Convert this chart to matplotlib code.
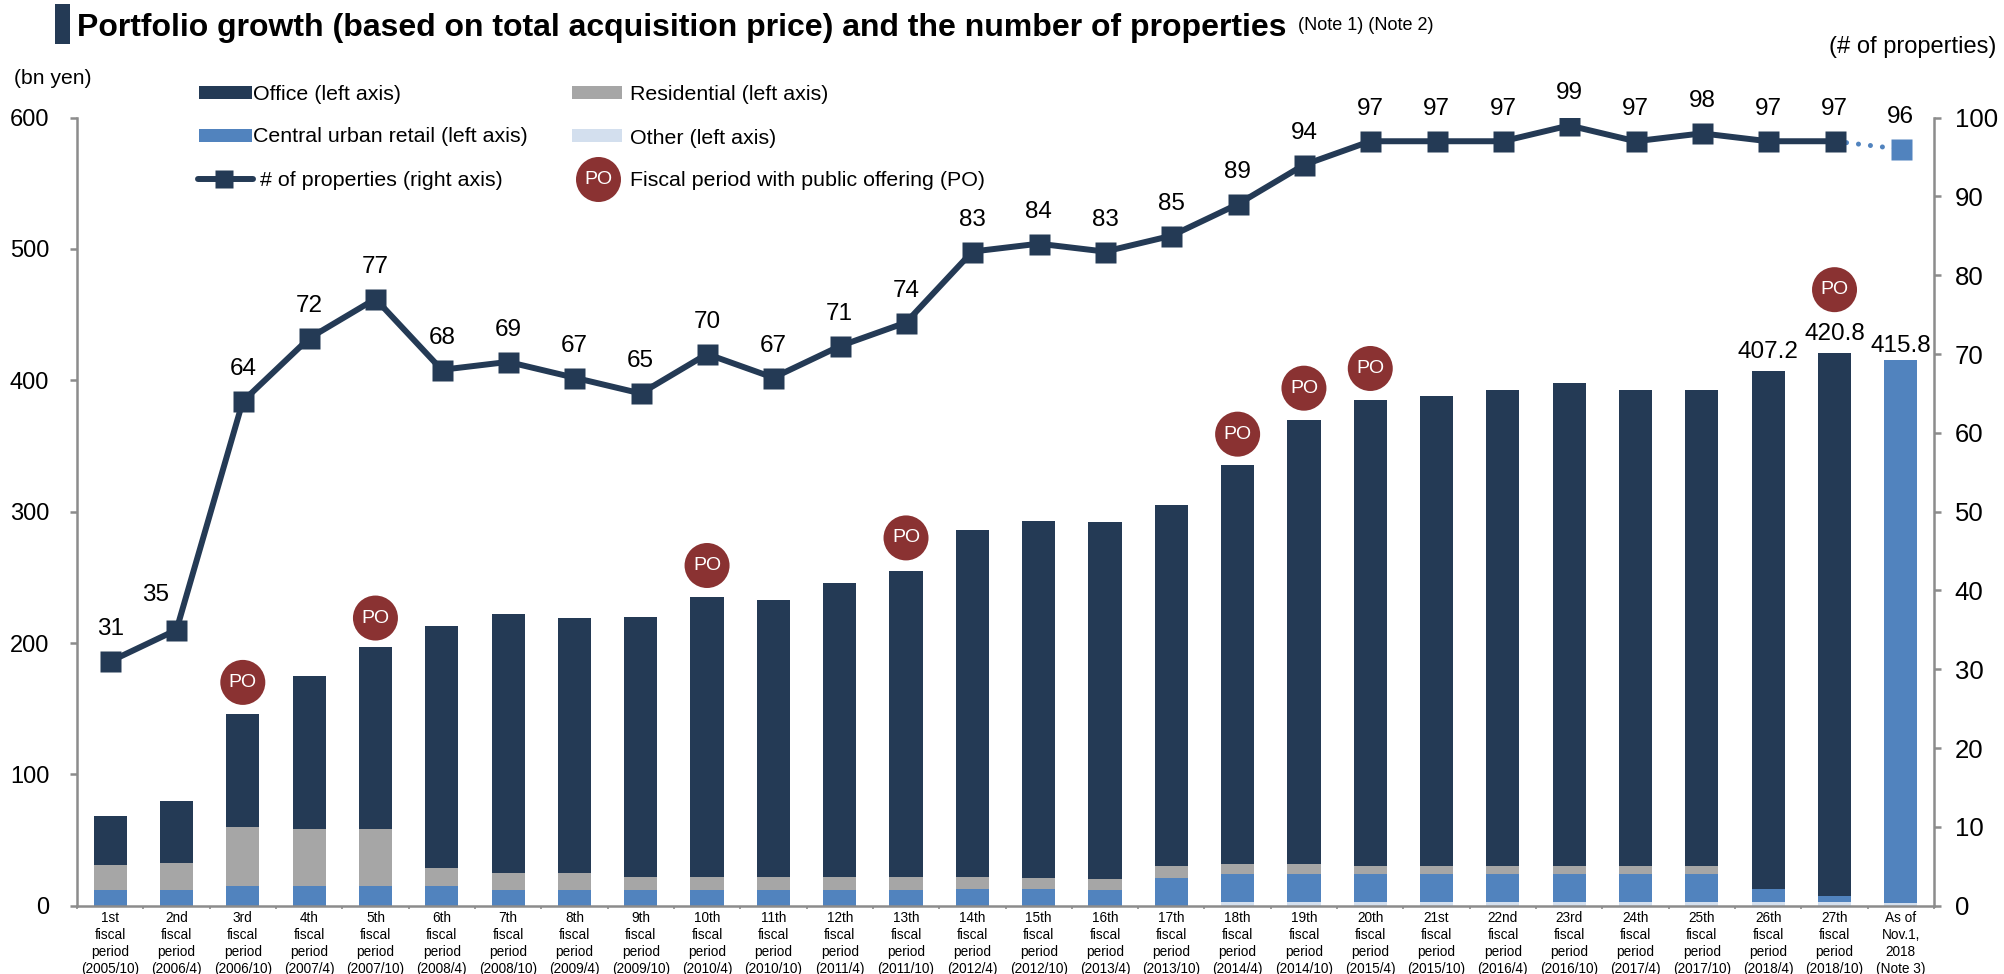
import matplotlib
matplotlib.use("Agg")
import matplotlib.pyplot as plt
from matplotlib.patches import Rectangle
from matplotlib.lines import Line2D
import numpy as np

plt.rcParams['font.family'] = ['Liberation Sans', 'DejaVu Sans']

W, H = 2004, 974
categories = [
    "1st\nfiscal\nperiod\n(2005/10)", "2nd\nfiscal\nperiod\n(2006/4)", "3rd\nfiscal\nperiod\n(2006/10)",
    "4th\nfiscal\nperiod\n(2007/4)", "5th\nfiscal\nperiod\n(2007/10)", "6th\nfiscal\nperiod\n(2008/4)",
    "7th\nfiscal\nperiod\n(2008/10)", "8th\nfiscal\nperiod\n(2009/4)", "9th\nfiscal\nperiod\n(2009/10)",
    "10th\nfiscal\nperiod\n(2010/4)", "11th\nfiscal\nperiod\n(2010/10)", "12th\nfiscal\nperiod\n(2011/4)",
    "13th\nfiscal\nperiod\n(2011/10)", "14th\nfiscal\nperiod\n(2012/4)", "15th\nfiscal\nperiod\n(2012/10)",
    "16th\nfiscal\nperiod\n(2013/4)", "17th\nfiscal\nperiod\n(2013/10)", "18th\nfiscal\nperiod\n(2014/4)",
    "19th\nfiscal\nperiod\n(2014/10)", "20th\nfiscal\nperiod\n(2015/4)", "21st\nfiscal\nperiod\n(2015/10)",
    "22nd\nfiscal\nperiod\n(2016/4)", "23rd\nfiscal\nperiod\n(2016/10)", "24th\nfiscal\nperiod\n(2017/4)",
    "25th\nfiscal\nperiod\n(2017/10)", "26th\nfiscal\nperiod\n(2018/4)", "27th\nfiscal\nperiod\n(2018/10)",
    "As of\nNov.1,\n2018\n(Note 3)",
]
other = [0, 0, 0, 0, 0, 0, 0, 0, 0, 0, 0, 0, 0, 0, 0, 0, 0, 2.5, 2.5, 2.5, 2.5, 2.5, 2.5, 2.5, 2.5, 2.5, 2.5, 1.8]
retail = [11.7, 11.7, 15.2, 15.2, 15.2, 15.2, 11.7, 11.7, 11.7, 11.7, 11.7, 11.7, 11.7, 12.4, 12.4, 11.7, 21.3,
          21.9, 21.9, 21.9, 21.9, 21.9, 21.9, 21.9, 21.9, 10.2, 5.1, 414.0]
residential = [19.3, 20.8, 44.7, 43.4, 43.4, 13.2, 12.9, 12.9, 10.4, 10.4, 9.9, 9.9, 9.9, 9.4, 8.7, 8.8, 8.9,
               7.3, 7.3, 5.8, 5.8, 5.8, 5.8, 5.8, 5.8, 0, 0, 0]
office = [37.2, 47.5, 85.9, 116.2, 138.2, 184.4, 197.2, 194.2, 197.6, 212.7, 211.2, 224.2, 233.2, 264.0, 271.7,
          271.3, 274.6, 304.0, 338.0, 354.6, 357.6, 362.4, 367.6, 362.4, 362.2, 394.5, 413.2, 0]
properties = [31, 35, 64, 72, 77, 68, 69, 67, 65, 70, 67, 71, 74, 83, 84, 83, 85, 89, 94, 97, 97, 97, 99, 97, 98, 97, 97]
forecast_properties = [97, 96]
total_labels = {25: "407.2", 26: "420.8", 27: "415.8"}
po_index = [2, 4, 9, 12, 17, 18, 19, 26]
po_level = [170, 219, 259, 280, 359, 394, 409, 469]

NAVY, GRAY, BLUE, LIGHT, RED = '#243A55', '#A6A6A6', '#5183BE', '#D3DFEE', '#8A3232'
AXC = '#8C8C8C'
px = 0.72

fig = plt.figure(figsize=(W / 100, H / 100), dpi=100, facecolor='white')
x0, x1, y0, y1 = 77, 1934, 905.7, 117.6
ax = fig.add_axes([x0 / W, 1 - y0 / H, (x1 - x0) / W, (y0 - y1) / H])
x = np.arange(len(categories))
bw = 0.5
bottom = np.zeros(len(x))
for vals, c in [(other, LIGHT), (retail, BLUE), (residential, GRAY), (office, NAVY)]:
    ax.bar(x, vals, bw, bottom=bottom, color=c, edgecolor='none', zorder=2)
    bottom += np.array(vals)
ax.set_xlim(-0.5, len(x) - 0.5)
ax.set_ylim(0, 600)
ax.set_yticks(range(0, 601, 100))
ax.set_xticks(x)
ax.set_xticklabels(categories, fontsize=9.8, linespacing=1.28)
ax.set_xticks(np.arange(-0.5, len(x)), minor=True)
ax.tick_params(axis='x', which='major', length=0, pad=4)
ax.tick_params(axis='x', which='minor', length=2.2, width=1.2, color=AXC)
ax.tick_params(axis='y', length=5, width=1.8, color=AXC, labelsize=17, pad=15)
for s in ['top', 'right']:
    ax.spines[s].set_visible(False)
ax.spines['left'].set_color(AXC); ax.spines['left'].set_linewidth(1.8)
ax.spines['bottom'].set_color(AXC); ax.spines['bottom'].set_linewidth(1.8)

for i, label in total_labels.items():
    ax.annotate(label, (x[i], bottom[i]), xytext=(0, 19 * px if i < 27 else 14 * px), textcoords='offset points',
                ha='center', va='center', fontsize=17.5)

ax.scatter([x[i] for i in po_index], po_level, s=(45 * px) ** 2, color=RED, edgecolor='none', zorder=3)
for i, lv in zip(po_index, po_level):
    ax.text(x[i], lv, "PO", color='white', ha='center', va='center', fontsize=14, zorder=4)

ax2 = ax.twinx()
ax2.set_ylim(0, 100)
ax2.set_yticks(range(0, 101, 10))
ax2.tick_params(axis='y', length=5, width=1.8, color=AXC, labelsize=18.5, pad=10)
for s in ['top', 'left', 'bottom']:
    ax2.spines[s].set_visible(False)
ax2.spines['right'].set_color(AXC); ax2.spines['right'].set_linewidth(1.8)
ax2.plot(x[-2:], forecast_properties, color=BLUE, lw=3.6, ls=(0, (0.01, 2.4)), dash_capstyle='round', zorder=3)
ax2.plot(x[:len(properties)], properties, color=NAVY, lw=4.3, marker='s', ms=21 * px, mec='none', zorder=4)
ax2.plot(x[-1], forecast_properties[-1], color=BLUE, marker='s', ms=21 * px, mec='none', zorder=4)
all_props = properties + forecast_properties[-1:]
for i, v in enumerate(all_props):
    dx, dy = (-21, 35) if i == 1 else (0, 32)
    ax2.annotate(str(v), (x[i], v), xytext=(dx * px, dy * px), textcoords='offset points',
                 ha='center', va='center', fontsize=17.5)

def T(xp, yp, s, **kw):
    kw.setdefault('va', 'center')
    kw.setdefault('ha', 'left')
    fig.text(xp / W, 1 - yp / H, s, **kw)

def R(xa, xb, ya, yb, c):
    fig.add_artist(Rectangle((xa / W, 1 - yb / H), (xb - xa) / W, (yb - ya) / H, transform=fig.transFigure,
                             color=c, lw=0))

R(55, 70, 4, 44, NAVY)
T(77, 28, "Portfolio growth (based on total acquisition price) and the number of properties",
  fontsize=23.05, fontweight='bold')
T(1298, 25, "(Note 1) (Note 2)", fontsize=13)
T(1996, 47, "(# of properties)", fontsize=17, ha='right')
T(14, 79, "(bn yen)", fontsize=15.2)

R(199, 252, 86, 99, NAVY); T(253, 94, "Office (left axis)", fontsize=15.4)
R(572, 622, 86, 99, GRAY); T(630, 94, "Residential (left axis)", fontsize=15.4)
R(199, 252, 129, 142, BLUE); T(253, 137, "Central urban retail (left axis)", fontsize=15.4)
R(572, 622, 129, 142, LIGHT); T(630, 138, "Other (left axis)", fontsize=15.4)
fig.add_artist(Line2D([198 / W, 253 / W], [1 - 179 / H] * 2, color=NAVY, lw=4.3, solid_capstyle='round',
                      transform=fig.transFigure))
fig.add_artist(Line2D([224 / W], [1 - 179 / H], color=NAVY, marker='s', ms=18 * px, mec='none',
                      transform=fig.transFigure))
T(260, 180, "# of properties (right axis)", fontsize=15.4)
fig.add_artist(Line2D([598 / W], [1 - 179 / H], color=RED, marker='o', ms=45 * px, mec='none',
                      transform=fig.transFigure))
T(598, 179, "PO", color='white', ha='center', fontsize=14)
T(630, 180, "Fiscal period with public offering (PO)", fontsize=15.4)

fig.savefig('out.png', dpi=100, facecolor='white')
